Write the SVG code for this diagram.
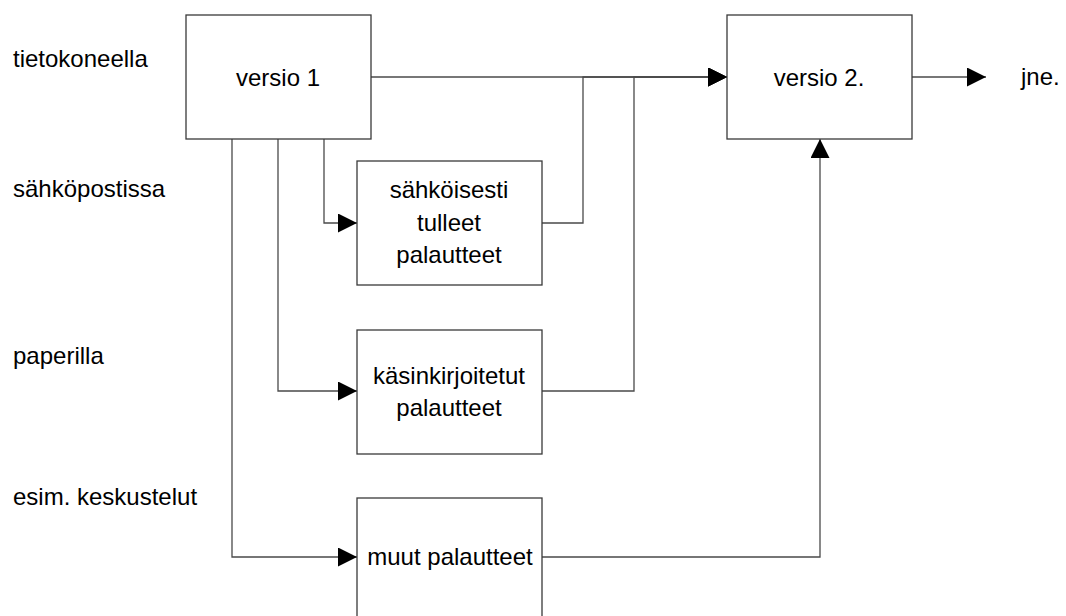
<svg xmlns="http://www.w3.org/2000/svg" width="1066" height="616" viewBox="0 0 1066 616">
<defs>
<style>
.box{fill:#ffffff;stroke:#3a3a3a;stroke-width:1.3}
.ln{fill:none;stroke:#4a4a4a;stroke-width:1.3}
.t{font-family:"Liberation Sans",Arial,sans-serif;font-size:24px;fill:#000}
.c{text-anchor:middle}
</style>
<marker id="ah" markerUnits="userSpaceOnUse" markerWidth="20" markerHeight="20" refX="19" refY="9.5" orient="auto">
<path d="M0,0 L19,9.5 L0,19 z" fill="#000"/>
</marker>
</defs>
<rect width="1066" height="616" fill="#ffffff"/>
<g id="labels">
<text class="t" x="13" y="67">tietokoneella</text>
<text class="t" x="13" y="197">sähköpostissa</text>
<text class="t" x="13" y="364">paperilla</text>
<text class="t" x="13" y="505">esim. keskustelut</text>
<text class="t" x="1021" y="85">jne.</text>
</g>
<g id="connectors">
<path class="ln" d="M371,77 L727,77" marker-end="url(#ah)"/>
<path class="ln" d="M912,77 L986,77" marker-end="url(#ah)"/>
<path class="ln" d="M324,139 L324,223 L357,223" marker-end="url(#ah)"/>
<path class="ln" d="M278,139 L278,391 L357,391" marker-end="url(#ah)"/>
<path class="ln" d="M232,139 L232,557 L357,557" marker-end="url(#ah)"/>
<path class="ln" d="M542,223 L583,223 L583,77 L727,77" marker-end="url(#ah)"/>
<path class="ln" d="M542,391 L634,391 L634,77 L727,77" marker-end="url(#ah)"/>
<path class="ln" d="M542,557 L820,557 L820,139" marker-end="url(#ah)"/>
</g>
<g id="versio1">
<rect class="box" x="186" y="15" width="185" height="124"/>
<text class="t c" x="278" y="86">versio 1</text>
</g>
<g id="versio2">
<rect class="box" x="727" y="15" width="185" height="124"/>
<text class="t c" x="819" y="86">versio 2.</text>
</g>
<g id="sahkoisesti">
<rect class="box" x="357" y="161" width="185" height="124"/>
<text class="t c" x="449" y="198">sähköisesti</text>
<text class="t c" x="449" y="231">tulleet</text>
<text class="t c" x="449" y="263">palautteet</text>
</g>
<g id="kasinkirjoitetut">
<rect class="box" x="357" y="330" width="185" height="124"/>
<text class="t c" x="449" y="384">käsinkirjoitetut</text>
<text class="t c" x="449" y="416">palautteet</text>
</g>
<g id="muut">
<rect class="box" x="357" y="498" width="185" height="124"/>
<text class="t c" x="450" y="565">muut palautteet</text>
</g>
</svg>
